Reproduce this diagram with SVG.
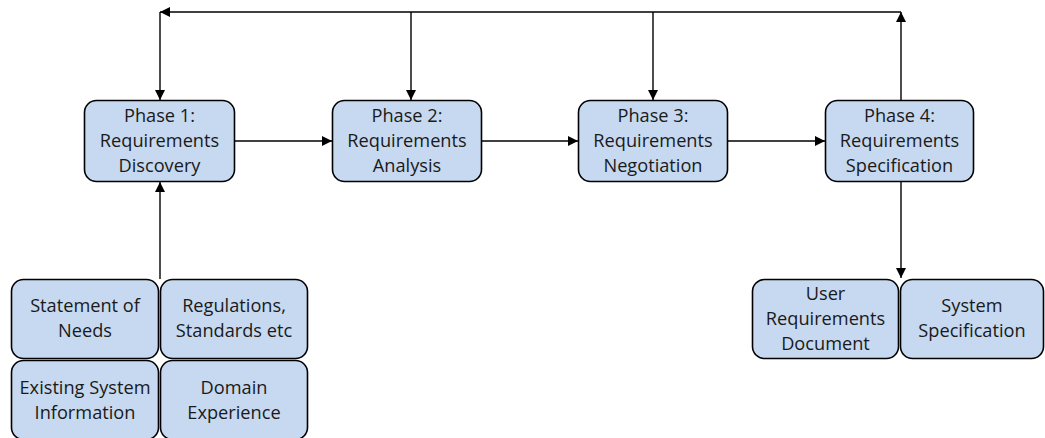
<svg xmlns="http://www.w3.org/2000/svg" width="1045" height="438" viewBox="0 0 1045 438">
<defs>
<style>
.box{fill:#c6d9f0;stroke:#000;stroke-width:1.6}
.t{font-family:"Open Sans","Liberation Sans",sans-serif;font-size:18.2px;fill:#1a1a1a;text-anchor:middle}
.c{fill:none;stroke:#000;stroke-width:1.4}
</style>
<marker id="a" viewBox="0 0 10 10" refX="10" refY="5" markerWidth="10" markerHeight="10" markerUnits="userSpaceOnUse" orient="auto">
<path d="M0,0 L10,5 L0,10 z" fill="#000"/>
</marker>
</defs>
<rect width="1045" height="438" fill="#fff"/>
<g id="connectors">
<path class="c" d="M901,100 V12" marker-end="url(#a)"/>
<path class="c" d="M901,12 H160" marker-end="url(#a)"/>
<path class="c" d="M160,12 V100" marker-end="url(#a)"/>
<path class="c" d="M411,12 V100" marker-end="url(#a)"/>
<path class="c" d="M653,12 V100" marker-end="url(#a)"/>
<path class="c" d="M234,141 H332" marker-end="url(#a)"/>
<path class="c" d="M481,141 H578" marker-end="url(#a)"/>
<path class="c" d="M727,141 H825" marker-end="url(#a)"/>
<path class="c" d="M160,279 V182" marker-end="url(#a)"/>
<path class="c" d="M901,182 V278" marker-end="url(#a)"/>
</g>
<g id="phase1"><rect class="box" x="84.5" y="100.5" width="150" height="81" rx="12"/>
<text class="t" x="159.5" y="122">Phase 1:</text><text class="t" x="159.5" y="147">Requirements</text><text class="t" x="159.5" y="172">Discovery</text></g>
<g id="phase2"><rect class="box" x="332.5" y="100.5" width="149" height="81" rx="12"/>
<text class="t" x="407" y="122">Phase 2:</text><text class="t" x="407" y="147">Requirements</text><text class="t" x="407" y="172">Analysis</text></g>
<g id="phase3"><rect class="box" x="578.5" y="100.5" width="149" height="81" rx="12"/>
<text class="t" x="653" y="122">Phase 3:</text><text class="t" x="653" y="147">Requirements</text><text class="t" x="653" y="172">Negotiation</text></g>
<g id="phase4"><rect class="box" x="825.5" y="100.5" width="148" height="81" rx="12"/>
<text class="t" x="899.5" y="122">Phase 4:</text><text class="t" x="899.5" y="147">Requirements</text><text class="t" x="899.5" y="172">Specification</text></g>
<g id="statement"><rect class="box" x="11.5" y="279.5" width="147" height="79" rx="12"/>
<text class="t" x="85" y="312">Statement of</text><text class="t" x="85" y="337">Needs</text></g>
<g id="regulations"><rect class="box" x="160.5" y="279.5" width="147" height="79" rx="12"/>
<text class="t" x="234" y="312">Regulations,</text><text class="t" x="234" y="337">Standards etc</text></g>
<g id="existing"><rect class="box" x="11.5" y="360.5" width="147" height="79" rx="12"/>
<text class="t" x="85" y="394">Existing System</text><text class="t" x="85" y="419">Information</text></g>
<g id="domain"><rect class="box" x="160.5" y="360.5" width="147" height="79" rx="12"/>
<text class="t" x="234" y="394">Domain</text><text class="t" x="234" y="419">Experience</text></g>
<g id="userreq"><rect class="box" x="752.5" y="279.5" width="146" height="79" rx="12"/>
<text class="t" x="825.5" y="300">User</text><text class="t" x="825.5" y="325">Requirements</text><text class="t" x="825.5" y="350">Document</text></g>
<g id="syspec"><rect class="box" x="900.5" y="279.5" width="143" height="79" rx="12"/>
<text class="t" x="972" y="312">System</text><text class="t" x="972" y="337">Specification</text></g>
</svg>
